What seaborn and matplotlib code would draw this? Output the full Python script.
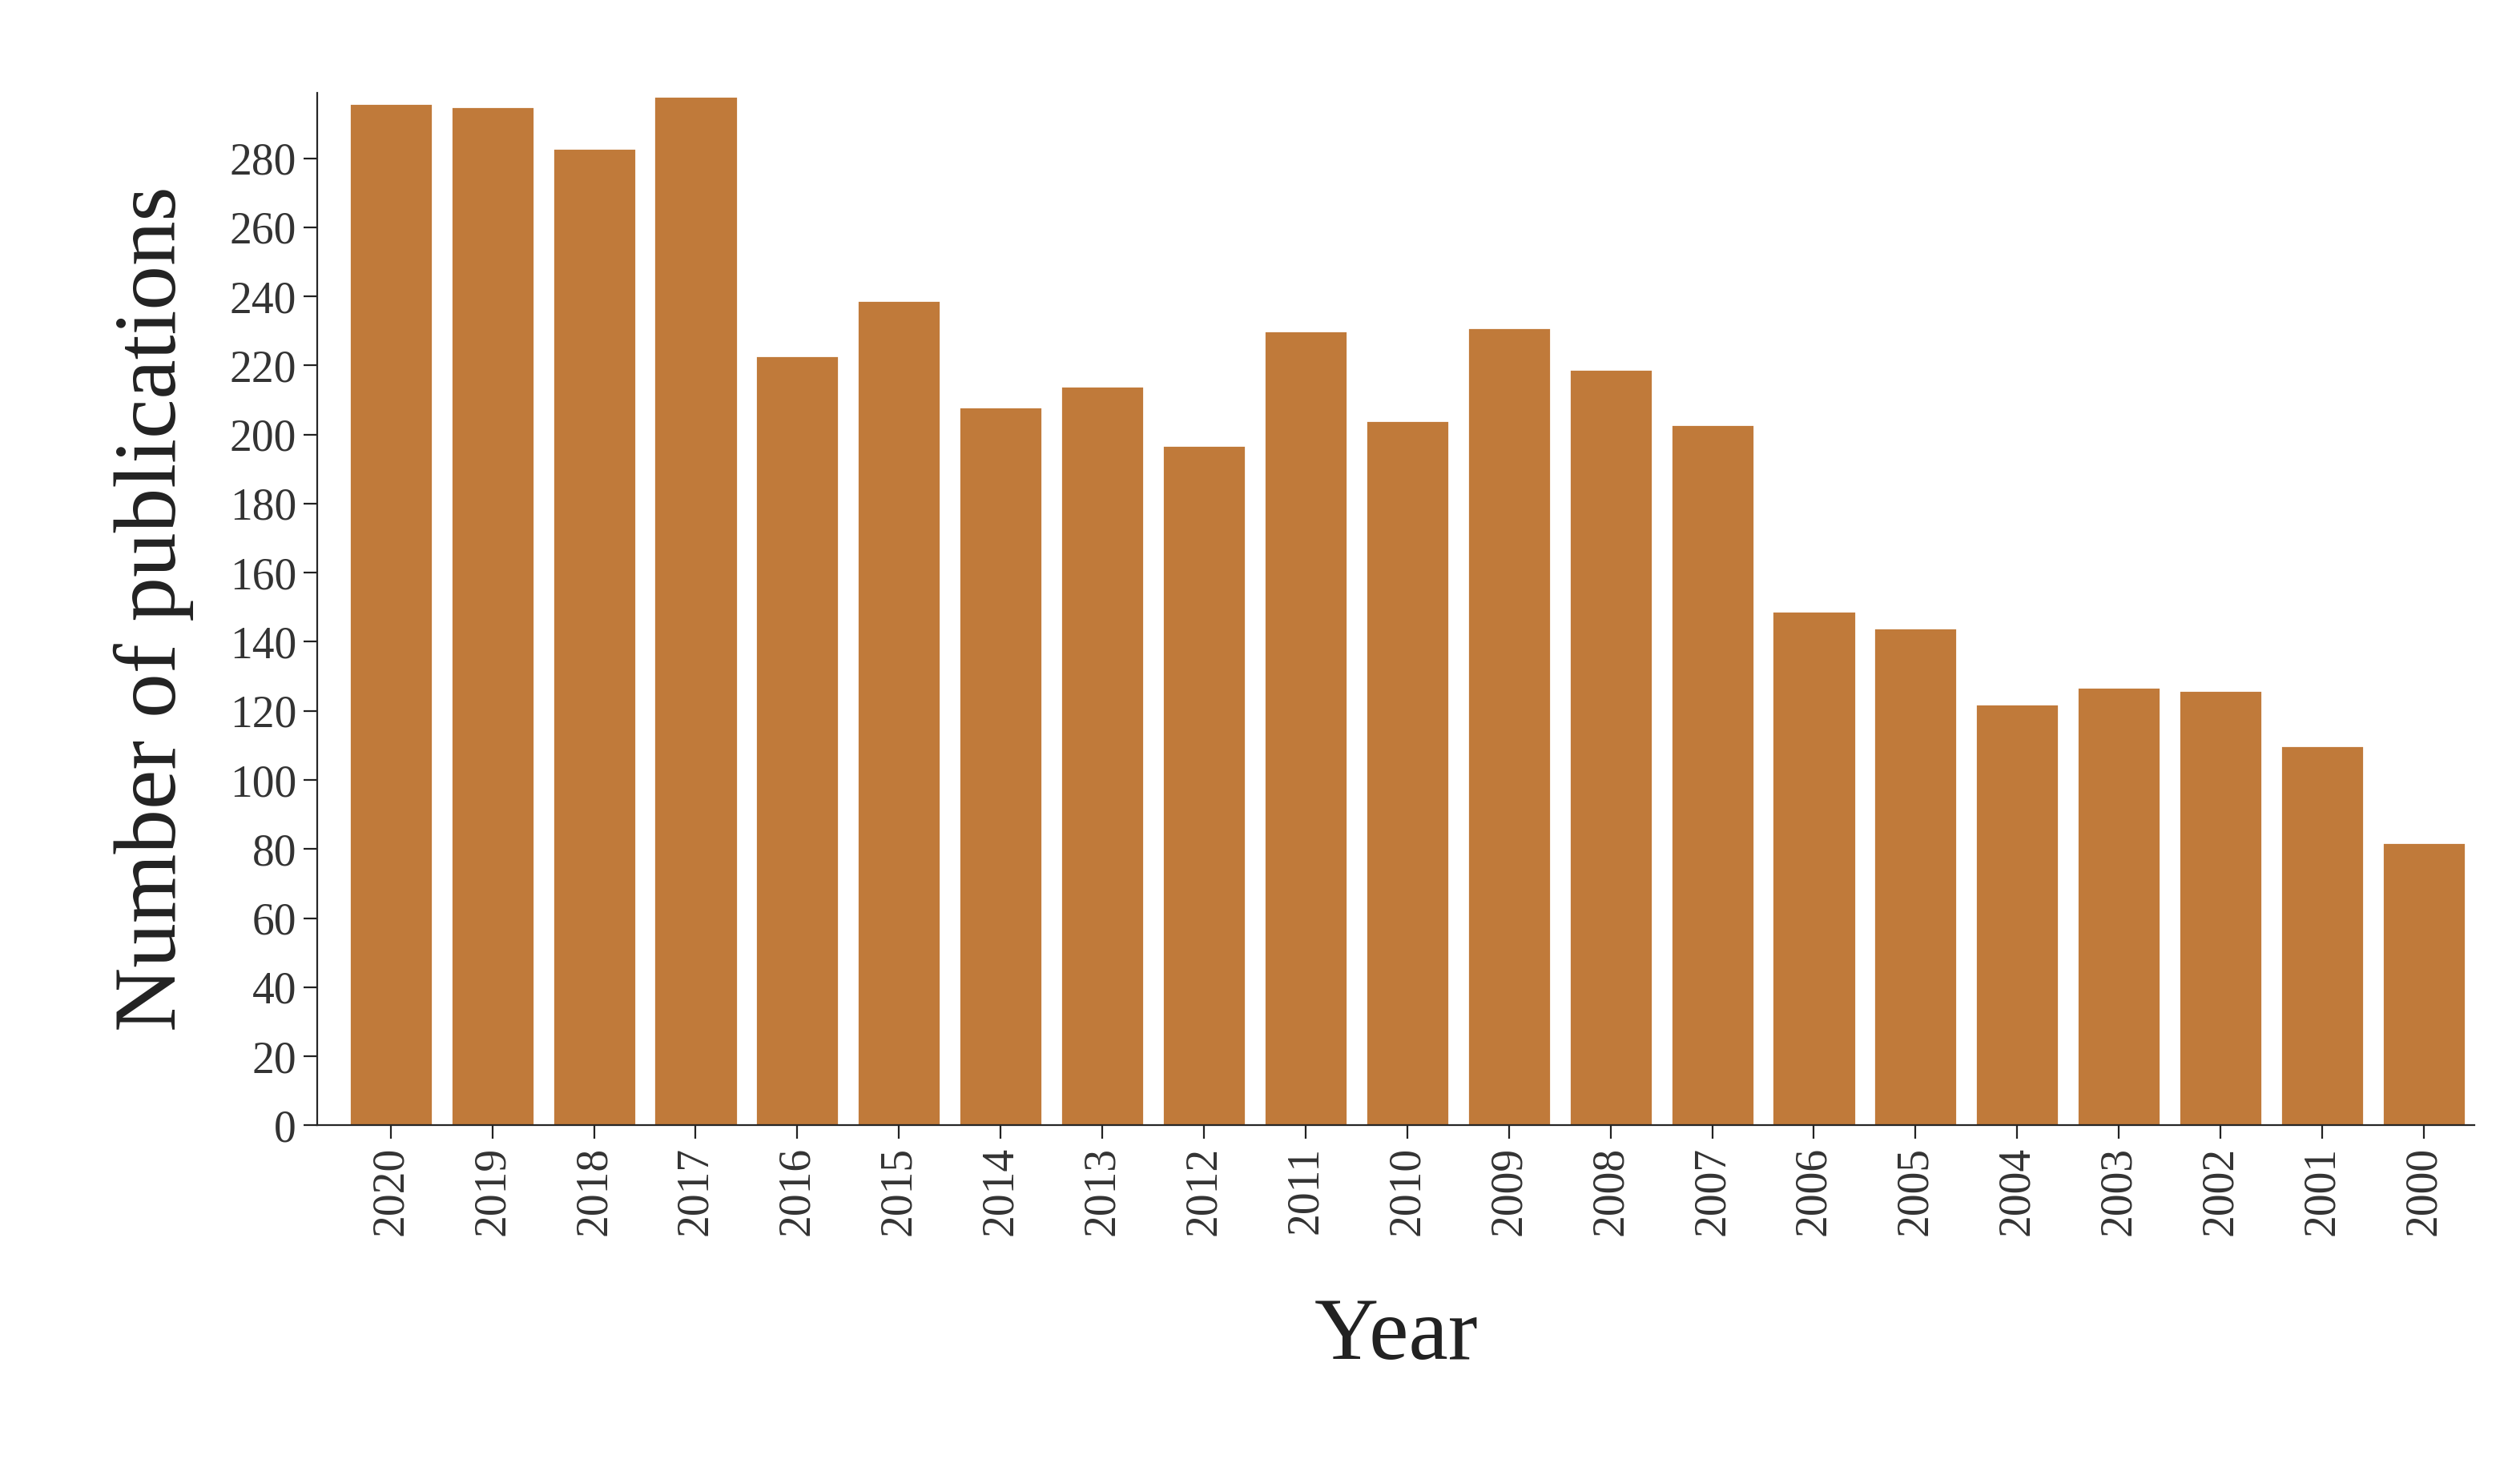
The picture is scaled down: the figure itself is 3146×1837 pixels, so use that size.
import matplotlib
matplotlib.use("Agg")
import matplotlib.pyplot as plt
import seaborn as sns
import pandas as pd

years = ["2020","2019","2018","2017","2016","2015","2014","2013","2012","2011","2010",
         "2009","2008","2007","2006","2005","2004","2003","2002","2001","2000"]
counts = [296,295,283,298,223,239,208,214,197,230,204,231,219,203,149,144,122,127,126,110,82]
df = pd.DataFrame({"Year": years, "Count": counts})

sns.set_style("ticks")
plt.rcParams['font.family'] = ['Liberation Serif', 'DejaVu Serif']

fig = plt.figure(figsize=(15.73, 9.185), dpi=200)
ax = fig.add_axes([0.126, 0.235, 0.856, 0.702])
sns.barplot(data=df, x="Year", y="Count", color="#C07A3A", saturation=1, width=0.82, ax=ax)
ax.set_xlim(-0.72, 20.5)
ax.set_ylim(0, 299)
ax.set_yticks(range(0, 281, 20))
ax.tick_params(axis='x', labelrotation=90, labelsize=20, length=6, color="#222")
ax.tick_params(axis='y', labelsize=20, length=6, color="#222")
for lab in ax.get_yticklabels() + ax.get_xticklabels():
    lab.set_color("#333")
sns.despine(ax=ax)
ax.set_xlabel("Year", fontsize=40, labelpad=28, color="#222")
ax.set_ylabel("Number of publications", fontsize=40, labelpad=16, color="#222")
fig.savefig("out.png", dpi=200)
